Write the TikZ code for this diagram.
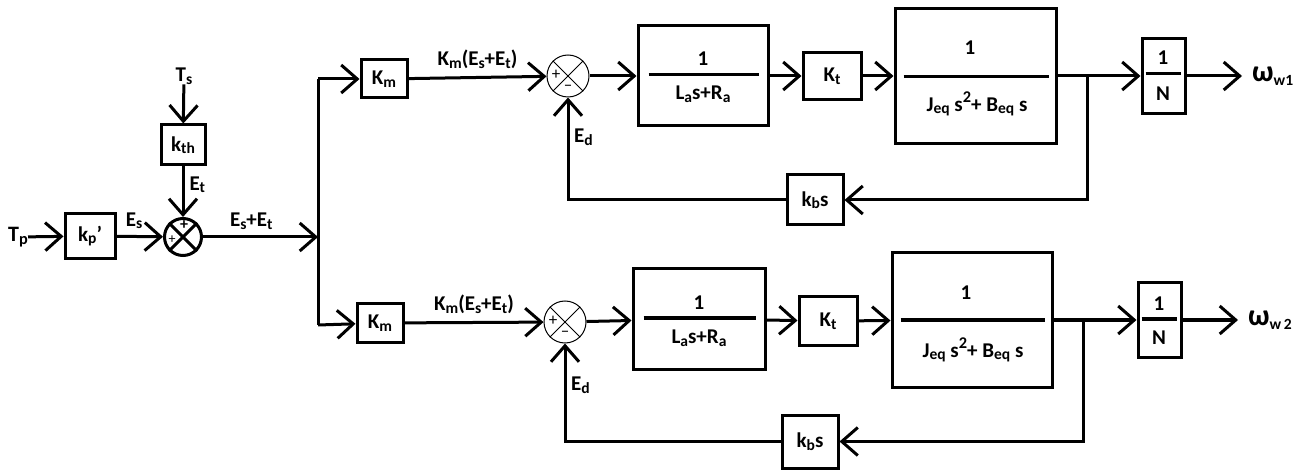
\documentclass[tikz,border=0pt]{standalone}
\usepackage{fontspec}
\setmainfont{Carlito}
\usepackage{graphicx}
\usetikzlibrary{arrows.meta,calc}
\newcommand\sbs[1]{\raisebox{-0.12em}{\scalebox{0.74}{#1}}}
\newcommand\sps[1]{\raisebox{0.42em}{\scalebox{0.78}{#1}}}
\begin{document}
\begin{tikzpicture}[x=1pt,y=-1pt,
  font=\bfseries\fontsize{20}{22}\selectfont,
  blk/.style={draw, line width=3pt, inner sep=0pt, font=\bfseries\fontsize{21}{23}\selectfont},
  wire/.style={line width=3pt},
  arr/.style={wire, -{Straight Barb[length=16pt,width=28pt,line width=3pt]}},
  lbl/.style={inner sep=0pt, font=\bfseries\fontsize{21}{23}\selectfont},
  txt/.style={inner sep=0pt, font=\bfseries\fontsize{21}{23}\selectfont},
  sumthin/.style={circle, draw, line width=1pt, minimum size=42pt, inner sep=0pt},
  sumthick/.style={circle, draw, line width=3pt, minimum size=37pt, inner sep=0pt},
  sgn/.style={inner sep=0pt, font=\mdseries\fontsize{17}{17}\selectfont},
  fracline/.style={line width=3pt},
]
\useasboundingbox (0,0) rectangle (1309,470);

% ---------- input part ----------
\node[inner sep=0pt, font=\bfseries\fontsize{22}{24}\selectfont] (tp) at (18,237) {T\sbs{p}};
\node[blk, minimum width=50pt, minimum height=45pt] (kp) at (90,236) {k\sbs{p}'};
\node[lbl] (ts) at (184,76) {T\sbs{s}};
\node[blk, minimum width=44pt, minimum height=40pt] (kth) at (183,145) {k\sbs{th}};
\node[sumthick] (s0) at (183,237) {};
\draw[wire] (s0.45) -- (s0.225) (s0.135) -- (s0.315);
\node[inner sep=0pt, font=\bfseries\fontsize{16}{16}\selectfont] (s0t) at (184,225) {+};
\node[sgn, font=\mdseries\fontsize{14}{14}\selectfont] (s0l) at (172,240) {+};

\draw[arr] (tp) -- (kp);
\draw[arr] (kp) -- (s0) node[lbl, pos=0.38, above=6pt] (es) {E\sbs{s}};
\draw[arr] (ts) -- (kth);
\draw[arr] (kth) -- (s0) node[lbl, pos=0.36, right=5pt] (et) {E\sbs{t}};

\coordinate (j) at (318,237);
\coordinate (jt) at (318,79);
\coordinate (jb) at (318,325);
\draw[arr] (s0) -- (j) node[lbl, pos=0.42, above=6pt] (est) {E\sbs{s}+E\sbs{t}};
\draw[wire] (jt) -- (jb);

% ---------- upper branch ----------
\node[blk, minimum width=46pt, minimum height=38pt] (km1) at (384,79) {K\sbs{m}};
\node[sumthin] (s1) at (568,76) {};
\draw[line width=1pt] (s1.45) -- (s1.225) (s1.135) -- (s1.315);
\node[sgn] (s1p) at (556,75) {+};
\node[sgn] (s1m) at (568,88) {--};
\node[blk, minimum width=130pt, minimum height=100pt] (la1) at (703,76) {};
\node[blk, minimum width=58pt, minimum height=47pt] (kt1) at (832,76) {K\sbs{t}};
\node[blk, minimum width=161pt, minimum height=135pt] (jq1) at (975.5,76) {};
\node[blk, minimum width=43pt, minimum height=75pt] (n1) at (1163.5,76) {};
\node[blk, minimum width=56pt, minimum height=50pt] (kb1) at (815,200) {k\sbs{b}s};

\node[txt] (la1n) at (703,59) {1};
\draw[fracline] ($(la1.west)+(12,-1)$) -- ($(la1.east)+(-11,-1)$);
\node[txt] (la1d) at (703,94) {L\sbs{a}s+R\sbs{a}};

\node[txt] (jq1n) at (970,48) {1};
\draw[fracline] ($(jq1.west)+(10,1)$) -- ($(jq1.east)+(-9,1)$);
\node[txt] (jq1d) at (977,104) {J\sbs{eq} s\sps{2}+ B\sbs{eq} s};

\node[txt] (n1n) at (1163,58) {1};
\draw[fracline] ($(n1.west)+(5,-2)$) -- ($(n1.east)+(-6,-2)$);
\node[txt] (n1d) at (1163,94) {N};

\draw[arr] (jt) -- (km1);
\draw[arr] (km1) -- (s1) node[lbl, midway, above=7pt] (kmlab1) {K\sbs{m}(E\sbs{s}+E\sbs{t})};
\draw[arr] (s1) -- (la1);
\draw[arr] (la1) -- (kt1);
\draw[arr] (kt1) -- (jq1);
\coordinate (br1) at (1087,76);
\coordinate (o1) at (1242,76);
\draw[wire] (jq1) -- (br1);
\draw[arr] (br1) -- (n1);
\draw[arr] (n1) -- (o1);
\node[inner sep=0pt, anchor=west, font=\bfseries\fontsize{30}{32}\selectfont] (w1) at (1252,76) {ω\sbs{\scalebox{0.7}{w1}}};
\draw[arr] (br1) |- (kb1);
\draw[arr] (kb1) -| (s1);
\node[lbl, anchor=west] (ed1) at (574,137) {E\sbs{d}};

% ---------- lower branch ----------
\node[blk, minimum width=46pt, minimum height=38pt] (km2) at (380,323) {K\sbs{m}};
\node[sumthin] (s2) at (565,322) {};
\draw[line width=1pt] (s2.45) -- (s2.225) (s2.135) -- (s2.315);
\node[sgn] (s2p) at (553,321) {+};
\node[sgn] (s2m) at (565,334) {--};
\node[blk, minimum width=132pt, minimum height=100pt] (la2) at (699,319) {};
\node[blk, minimum width=58pt, minimum height=48pt] (kt2) at (828,321) {K\sbs{t}};
\node[blk, minimum width=160pt, minimum height=134pt] (jq2) at (972,320) {};
\node[blk, minimum width=43pt, minimum height=74pt] (n2) at (1159.5,320) {};
\node[blk, minimum width=56pt, minimum height=53pt] (kb2) at (810,441.5) {k\sbs{b}s};

\node[txt] (la2n) at (699,303) {1};
\draw[fracline] ($(la2.west)+(12,-1)$) -- ($(la2.east)+(-11,-1)$);
\node[txt] (la2d) at (699,338) {L\sbs{a}s+R\sbs{a}};

\node[txt] (jq2n) at (966,293) {1};
\draw[fracline] ($(jq2.west)+(10,0)$) -- ($(jq2.east)+(-9,0)$);
\node[txt] (jq2d) at (973,350) {J\sbs{eq} s\sps{2}+ B\sbs{eq} s};

\node[txt] (n2n) at (1159,304) {1};
\draw[fracline] ($(n2.west)+(5,-1)$) -- ($(n2.east)+(-6,-1)$);
\node[txt] (n2d) at (1159,338) {N};

\draw[arr] (jb) -- (km2);
\draw[arr] (km2) -- (s2) node[lbl, midway, above=7pt] (kmlab2) {K\sbs{m}(E\sbs{s}+E\sbs{t})};
\draw[arr] (s2) -- (la2);
\draw[arr] (la2) -- (kt2);
\draw[arr] (kt2) -- (jq2);
\coordinate (br2) at (1083,320);
\coordinate (o2) at (1238,320);
\draw[wire] (jq2) -- (br2);
\draw[arr] (br2) -- (n2);
\draw[arr] (n2) -- (o2);
\node[inner sep=0pt, anchor=west, font=\bfseries\fontsize{30}{32}\selectfont] (w2) at (1248,320) {ω\sbs{\scalebox{0.7}{w\,2}}};
\draw[arr] (br2) |- (kb2);
\draw[arr] (kb2) -| (s2);
\node[lbl, anchor=west] (ed2) at (571,385) {E\sbs{d}};
\end{tikzpicture}
\end{document}
